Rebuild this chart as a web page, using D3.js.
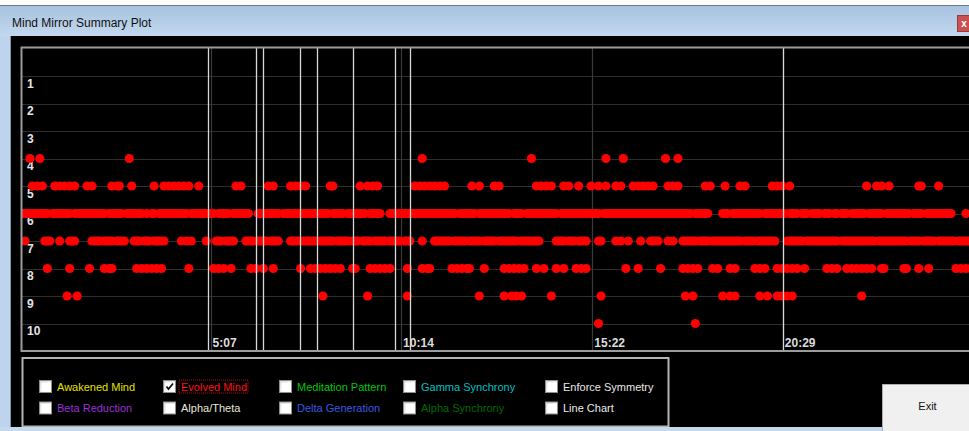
<!DOCTYPE html>
<html><head><meta charset="utf-8">
<script src="https://cdn.jsdelivr.net/npm/d3@7"></script>
<style>html,body{margin:0;padding:0;background:#fff;overflow:hidden}</style>
</head><body>
<svg id="chart" width="969" height="431"></svg>
<script>
// ---- data (sample index, one sample = 4 s) ----
const SAMPLE_SECONDS = 4;
const level4 = [4, 8, 44, 162, 206, 236, 243, 260, 265];
const level5 = [5, 7, 9, 14, 16, 18, 20, 22, 27, 29, 37, 39, 40, 45, 54, 58, 60, 62, 64, 66, 68, 72, 87, 89, 100, 102, 109, 111, 113, 115, 125, 126, 137, 140, 142, 144, 159, 161, 163, 165, 167, 169, 171, 182, 185, 191, 193, 208, 210, 212, 214, 219, 221, 225, 230, 233, 236, 240, 242, 247, 249, 251, 253, 255, 261, 263, 265, 276, 278, 284, 290, 292, 303, 305, 307, 310, 341, 345, 347, 350, 362, 363, 370];
const level6 = [
  0, 1, 2, 3, 4, 5, 6, 7, 8, 9, 10, 11, 13, 14, 15, 16, 17, 18, 19, 20,
  22, 23, 24, 25, 26, 27, 28, 29, 30, 31, 32, 33, 34, 36, 37, 38, 39, 40, 41,
  43, 44, 45, 46, 47, 48, 49, 51, 53, 54, 56, 57, 58, 59, 60, 61, 62, 63, 64, 65, 66, 67,
  69, 70, 71, 72, 73, 74, 75, 76, 77, 78, 80, 81, 82, 83, 84, 86, 87, 88, 89, 90, 91, 92,
  96, 97, 98, 99, 100, 101, 102, 103, 104, 106, 107, 108, 109, 110, 111, 112, 113, 114, 115, 116, 117, 118, 119,
  121, 122, 123, 124, 126, 127, 128, 129, 130, 132, 133, 134, 135, 136, 137, 138, 139, 141, 142, 143, 144, 145,
  149, 150, 151, 152, 153, 154, 155, 156, 157, 158, 159, 160, 161, 162, 163, 164, 165, 166, 167, 168, 169, 170,
  171, 172, 173, 174, 175, 177, 178, 179, 180, 181, 182, 183, 185, 186, 187, 188, 189, 190, 191, 192, 193, 194,
  195, 196, 197, 199, 200, 201, 202, 204, 205, 206, 207, 208, 209, 210, 211, 212, 213, 214, 215, 216,
  218, 219, 220, 221, 222, 223, 224, 225, 226, 227, 228, 229, 230, 231, 232, 233,
  235, 236, 237, 238, 239, 240, 241, 242, 243, 244, 245, 246, 247, 248, 249, 250, 251, 252, 253, 254,
  255, 256, 257, 258, 259, 260, 261, 262, 263, 264, 265, 266, 267, 268, 269, 270, 272, 273, 274, 275, 276, 277,
  283, 284, 285, 287, 288, 289, 290, 291, 292, 293, 294, 295, 296, 297, 298, 300, 301, 302, 303, 304, 305, 306, 307, 308,
  310, 311, 312, 313, 315, 316, 317, 319, 320, 321, 322, 324, 325, 326, 328, 329, 331, 332, 333,
  335, 336, 337, 338, 339, 340, 342, 343, 344, 345, 346, 347, 349, 350, 351, 352, 353, 354, 355, 356, 357, 358,
  360, 361, 362, 363, 365, 366, 367, 368, 369, 370, 371, 372, 373, 374, 375, 381];
const level7 = [
  2, 10, 11, 12, 16, 20, 21, 22,
  29, 30, 31, 32, 34, 35, 36, 37, 39, 40, 41, 42,
  46, 47, 48, 50, 51, 52, 54, 55, 56, 57, 58, 65, 67, 69, 75,
  79, 80, 81, 83, 84, 85, 86, 91, 92, 93, 94, 96, 97, 98, 99, 101, 102, 103, 104,
  109, 110, 111, 112, 114, 115, 116, 117, 118, 119, 121, 122, 123, 124, 125, 126, 128, 129, 130, 131, 132,
  134, 135, 136, 138, 139, 140, 141, 143, 144, 145, 146, 147, 149, 150, 151, 152, 153, 155, 156, 157, 162,
  167, 168, 169, 170, 171, 172, 173, 175, 176, 177, 178, 179, 181, 182, 183, 184, 185, 187, 188, 189, 190, 191,
  193, 194, 195, 196, 197, 198, 199, 200, 202, 203, 204, 205, 206, 207, 208, 209,
  216, 217, 218, 219, 221, 222, 223, 225, 226, 227, 228, 233, 234, 240, 242, 245, 250, 254, 255, 256, 257, 261, 263,
  267, 268, 269, 270, 271, 272, 274, 275, 276, 277, 279, 280, 281, 282, 283, 284, 285, 286, 287, 288, 289, 290,
  292, 293, 294, 295, 297, 298, 299, 300, 301, 302, 303, 304,
  309, 310, 311, 312, 313, 314, 315, 317, 318, 319, 320, 321, 322, 323, 324, 325, 326, 327, 328, 329,
  331, 332, 333, 334, 335, 336, 337, 338, 339, 340, 341, 342, 343, 344, 346, 347, 348, 349, 350, 351, 352, 353,
  354, 355, 356, 357, 359, 360, 361, 362, 364, 365, 366, 367, 368, 370, 371, 372, 373, 374, 375, 376,
  378, 379, 380, 381, 382, 383];
const level8 = [11, 20, 28, 34, 36, 37, 47, 49, 51, 53, 55, 57, 68, 78, 80, 82, 85, 93, 95, 98, 102, 113, 117, 119, 121, 123, 125, 127, 129, 134, 135, 141, 143, 145, 147, 149, 156, 162, 164, 165, 174, 176, 178, 180, 181, 187, 195, 197, 199, 201, 203, 208, 211, 216, 219, 224, 226, 228, 244, 249, 258, 267, 269, 271, 273, 279, 281, 286, 288, 296, 298, 300, 305, 307, 309, 311, 313, 316, 325, 327, 329, 333, 335, 337, 339, 341, 343, 347, 348, 356, 357, 362, 366, 377, 379, 381, 383];
const level9 = [19, 23, 122, 140, 156, 185, 195, 198, 200, 202, 214, 234, 268, 271, 283, 286, 288, 298, 301, 305, 307, 309, 311, 339];
const level10 = [233, 272];

const levels = [1, 2, 3, 4, 5, 6, 7, 8, 9, 10];
const levelLabels = ["1", "2", "3", "4", "5", "6", "7", "8", "9", "10"];
const tickSeconds = [307, 614, 922, 1229];
const tickLabels = ["5:07", "10:14", "15:22", "20:29"];
const markerSeconds = [303, 381, 391, 451, 478, 537, 604, 628, 1229];

const legendRow1 = ["Awakened Mind", "Evolved Mind", "Meditation Pattern", "Gamma Synchrony", "Enforce Symmetry"];
const legendRow2 = ["Beta Reduction", "Alpha/Theta", "Delta Generation", "Alpha Synchrony", "Line Chart"];
const legendColors1 = ["#e2e200", "#ff1010", "#00c800", "#00c0c0", "#e8e8e8"];
const legendColors2 = ["#9a30d8", "#e8e8d8", "#3a58e0", "#006a00", "#ececec"];
const legendChecked1 = [false, true, false, false, false];
const legendChecked2 = [false, false, false, false, false];

const title = "Mind Mirror Summary Plot";

// ---- drawing ----
const svg = d3.select("#chart");
const defs = svg.append("defs");
const tg = defs.append("linearGradient").attr("id", "tbar").attr("x1", 0).attr("y1", 0).attr("x2", 0).attr("y2", 1);
tg.append("stop").attr("offset", "0%").attr("stop-color", "#a7c2e0");
tg.append("stop").attr("offset", "100%").attr("stop-color", "#c3d8ee");
const cg = defs.append("linearGradient").attr("id", "cbox").attr("x1", 0).attr("y1", 0).attr("x2", 1).attr("y2", 1);
cg.append("stop").attr("offset", "0%").attr("stop-color", "#dcdcdc");
cg.append("stop").attr("offset", "100%").attr("stop-color", "#ffffff");
defs.append("clipPath").attr("id", "plotClip").append("rect")
  .attr("x", 22).attr("y", 48).attr("width", 947).attr("height", 302);

// window chrome
svg.append("rect").attr("x", 0).attr("y", 0).attr("width", 969).attr("height", 431).attr("fill", "#bed4ec");
svg.append("rect").attr("x", 0).attr("y", 0).attr("width", 969).attr("height", 5).attr("fill", "#ffffff");
svg.append("rect").attr("x", 0).attr("y", 6).attr("width", 969).attr("height", 30).attr("fill", "url(#tbar)");
svg.append("line").attr("x1", 0).attr("x2", 969).attr("y1", 5.5).attr("y2", 5.5).attr("stroke", "#707a86");
svg.append("text").attr("x", 12).attr("y", 27).attr("font-family", "Liberation Sans, Arial, sans-serif")
  .attr("font-size", 12).attr("fill", "#101010").text(title);
svg.append("rect").attr("x", 957.5).attr("y", 15.5).attr("width", 14).attr("height", 16)
  .attr("fill", "#c9514f").attr("stroke", "#9c3a38");
svg.append("text").attr("x", 964).attr("y", 27).attr("text-anchor", "middle").attr("font-family", "Liberation Sans, Arial, sans-serif")
  .attr("font-size", 10).attr("font-weight", "bold").attr("fill", "#fff").text("x");

// black client area
svg.append("rect").attr("x", 11).attr("y", 36).attr("width", 958).attr("height", 391).attr("fill", "#000");
svg.append("line").attr("x1", 10.5).attr("x2", 10.5).attr("y1", 36).attr("y2", 427).attr("stroke", "#8396ab");

// scales
const x = d3.scaleLinear().domain([0, 1536]).range([20, 20 + 1536 * 0.6207]);
const y = d3.scaleLinear().domain([1, 10]).range([76, 323.5]);

const plot = svg.append("g");
// horizontal grid
plot.append("g").selectAll("line").data(levels).join("line")
  .attr("x1", 22).attr("x2", 969).attr("y1", d => Math.round(y(d)) + 0.5).attr("y2", d => Math.round(y(d)) + 0.5)
  .attr("stroke", "#2e2e2e").attr("stroke-width", 1.2);
// vertical grid at time ticks
plot.append("g").selectAll("line").data(tickSeconds).join("line")
  .attr("x1", d => Math.round(x(d)) + 0.5).attr("x2", d => Math.round(x(d)) + 0.5).attr("y1", 48).attr("y2", 351)
  .attr("stroke", "#3a3a3a").attr("stroke-width", 1.2);

// y axis labels
const yAxis = d3.axisRight(y).tickValues(levels).tickFormat((d, i) => levelLabels[i]).tickSize(0);
const gY = svg.append("g").attr("transform", "translate(22,0)").call(yAxis);
gY.select(".domain").remove();
gY.selectAll("text").attr("x", 5).attr("y", 11).attr("dy", 0)
  .attr("font-family", "Liberation Sans, Arial, sans-serif").attr("font-size", 12).attr("font-weight", "bold")
  .attr("fill", "#e4e4e4").attr("text-anchor", "start");

// x axis labels
const xAxis = d3.axisBottom(x).tickValues(tickSeconds).tickFormat((d, i) => tickLabels[i]).tickSize(0);
const gX = svg.append("g").attr("transform", "translate(0,336)").call(xAxis);
gX.select(".domain").remove();
gX.selectAll("text").attr("x", 1.5).attr("y", 11).attr("dy", 0)
  .attr("font-family", "Liberation Sans, Arial, sans-serif").attr("font-size", 12).attr("font-weight", "bold")
  .attr("fill", "#dcdcdc").attr("text-anchor", "start");

// dots
const series = [
  { level: 4, samples: level4 }, { level: 5, samples: level5 }, { level: 6, samples: level6 },
  { level: 7, samples: level7 }, { level: 8, samples: level8 }, { level: 9, samples: level9 },
  { level: 10, samples: level10 }
];
const dotsG = svg.append("g").attr("clip-path", "url(#plotClip)");
series.forEach(s => {
  dotsG.append("g").selectAll("circle").data(s.samples).join("circle")
    .attr("cx", d => x(d * SAMPLE_SECONDS)).attr("cy", y(s.level)).attr("r", 4.6).attr("fill", "#ff0000");
});

// marker lines
svg.append("g").selectAll("line").data(markerSeconds).join("line")
  .attr("x1", d => Math.round(x(d)) + 0.5).attr("x2", d => Math.round(x(d)) + 0.5).attr("y1", 48).attr("y2", 351)
  .attr("stroke", "#d8d8d8").attr("stroke-width", 1.3);

// plot frame
svg.append("rect").attr("x", 21.5).attr("y", 47.5).attr("width", 960).attr("height", 303.5)
  .attr("fill", "none").attr("stroke", "#9c9c9c").attr("stroke-width", 2);

// legend box
svg.append("rect").attr("x", 22.5).attr("y", 358).attr("width", 646).attr("height", 68.5)
  .attr("fill", "#000").attr("stroke", "#b4b4b4").attr("stroke-width", 2);

const colX = [39.5, 163.5, 279.5, 403.5, 545.5];
const rowY = [380.5, 402];
const legendRows = [
  { labels: legendRow1, colors: legendColors1, checked: legendChecked1 },
  { labels: legendRow2, colors: legendColors2, checked: legendChecked2 }
];
legendRows.forEach((row, ri) => {
  const g = svg.append("g").selectAll("g").data(row.labels).join("g")
    .attr("transform", (d, i) => `translate(${colX[i]},${rowY[ri]})`);
  g.append("rect").attr("width", 12).attr("height", 12).attr("fill", "url(#cbox)").attr("stroke", "#8e8e8e");
  g.append("rect").attr("x", 2).attr("y", 2).attr("width", 9).attr("height", 9).attr("fill", "#ffffff");
  g.filter((d, i) => row.checked[i]).append("path")
    .attr("d", "M3,6 L5,8.5 L9.5,3").attr("fill", "none").attr("stroke", "#111").attr("stroke-width", 1.8);
  g.append("text").attr("x", 17.5).attr("y", 10).attr("font-family", "Liberation Sans, Arial, sans-serif")
    .attr("font-size", 11).attr("fill", (d, i) => row.colors[i]).text(d => d);
  g.filter((d, i) => row.checked[i]).each(function () {
    const t = d3.select(this).select("text").node().getBBox();
    d3.select(this).append("rect").attr("x", t.x - 2).attr("y", -0.5).attr("width", t.width + 3).attr("height", 13)
      .attr("fill", "none").attr("stroke", "#b01010").attr("stroke-dasharray", "1,1");
  });
});

// exit button
svg.append("rect").attr("x", 882.5).attr("y", 384.5).attr("width", 100).attr("height", 50)
  .attr("fill", "#f0f0f0").attr("stroke", "#adadad");
svg.append("text").attr("x", 927.5).attr("y", 410).attr("text-anchor", "middle")
  .attr("font-family", "Liberation Sans, Arial, sans-serif").attr("font-size", 11).attr("fill", "#111").text("Exit");

// bottom window border
svg.append("rect").attr("x", 0).attr("y", 427).attr("width", 882).attr("height", 4).attr("fill", "#c4d8ee");
</script>
</body></html>
